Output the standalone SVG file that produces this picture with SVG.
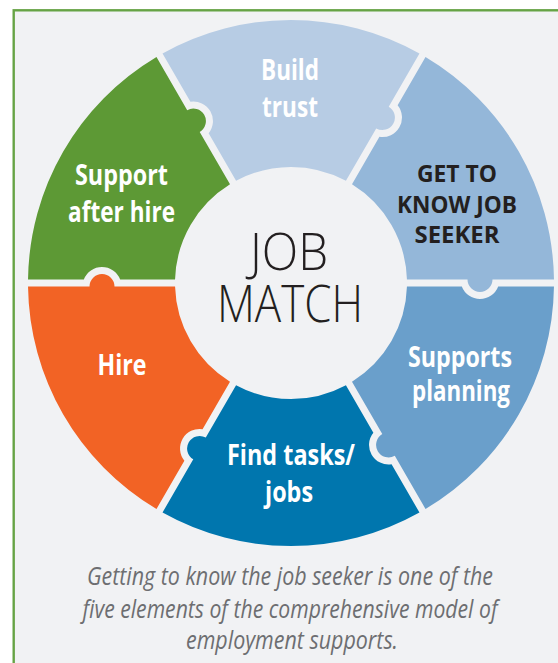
<svg xmlns="http://www.w3.org/2000/svg" xmlns:xlink="http://www.w3.org/1999/xlink" width="558" height="663" viewBox="0 0 558 663">
<style>
.lbl{font-family:"Open Sans","Liberation Sans",sans-serif;font-weight:700;font-size:29px;fill:#ffffff;text-anchor:middle}
.dark{fill:#231f20;font-size:24px}
.ctr{font-family:"Open Sans","Liberation Sans",sans-serif;font-weight:300;font-size:52px;fill:#231f20;text-anchor:middle}
.cap{font-family:"Open Sans","Liberation Sans",sans-serif;font-style:italic;font-weight:400;font-size:26px;fill:#6d6e71;text-anchor:middle}
</style>
<defs>
<path id="seg" d="M 115.95 3.5 L 170.8 3.5 A 19.5 19.5 0 0 0 207.2 3.5 L 262.98 3.5 A 263 263 0 0 1 134.52 226.0 L 103.78 172.75 A 12.5 12.5 0 0 1 91.28 151.10 L 61.00 98.66 A 116 116 0 0 0 115.95 3.5 Z"/>
</defs>
<rect x="0" y="0" width="558" height="663" fill="#ffffff"/>
<rect id="frame" x="13.7" y="10.3" width="570" height="680" fill="#f1f2f4" stroke="#66a345" stroke-width="2.4"/>
<g id="build-trust">
<use xlink:href="#seg" href="#seg" transform="translate(291 283) rotate(-120)" fill="#b7cce4"/>
<text class="lbl" x="290" y="80" textLength="58" lengthAdjust="spacingAndGlyphs">Build</text>
<text class="lbl" x="290" y="117" textLength="56" lengthAdjust="spacingAndGlyphs">trust</text>
</g>
<g id="get-to-know">
<use xlink:href="#seg" href="#seg" transform="translate(291 283) rotate(-60)" fill="#94b7d9"/>
<text class="lbl dark" x="457" y="182" textLength="80" lengthAdjust="spacingAndGlyphs">GET TO</text>
<text class="lbl dark" x="457" y="213" textLength="120" lengthAdjust="spacingAndGlyphs">KNOW JOB</text>
<text class="lbl dark" x="457" y="243" textLength="85" lengthAdjust="spacingAndGlyphs">SEEKER</text>
</g>
<g id="supports-planning">
<use xlink:href="#seg" href="#seg" transform="translate(291 283) rotate(0)" fill="#6a9fcb"/>
<text class="lbl" x="460" y="367" textLength="104" lengthAdjust="spacingAndGlyphs">Supports</text>
<text class="lbl" x="461" y="401" textLength="98" lengthAdjust="spacingAndGlyphs">planning</text>
</g>
<g id="find-tasks">
<use xlink:href="#seg" href="#seg" transform="translate(291 283) rotate(60)" fill="#0076ae"/>
<text class="lbl" x="291" y="465" textLength="128" lengthAdjust="spacingAndGlyphs">Find tasks/</text>
<text class="lbl" x="289" y="502" textLength="48" lengthAdjust="spacingAndGlyphs">jobs</text>
</g>
<g id="hire">
<use xlink:href="#seg" href="#seg" transform="translate(291 283) rotate(120)" fill="#f26325"/>
<text class="lbl" x="122" y="375" textLength="49" lengthAdjust="spacingAndGlyphs">Hire</text>
</g>
<g id="support-after-hire">
<use xlink:href="#seg" href="#seg" transform="translate(291 283) rotate(180)" fill="#5d9935"/>
<text class="lbl" x="121.5" y="185" textLength="93" lengthAdjust="spacingAndGlyphs">Support</text>
<text class="lbl" x="121.5" y="222" textLength="107" lengthAdjust="spacingAndGlyphs">after hire</text>
</g>
<g id="job-match">
<circle cx="291" cy="283" r="112" fill="#f1f2f4"/>
<text class="ctr" x="289" y="270" textLength="78" lengthAdjust="spacingAndGlyphs">JOB</text>
<text class="ctr" x="290" y="322" textLength="146" lengthAdjust="spacingAndGlyphs">MATCH</text>
</g>
<g id="caption">
<text class="cap" x="290" y="585" textLength="406" lengthAdjust="spacingAndGlyphs">Getting to know the job seeker is one of the</text>
<text class="cap" x="290" y="618" textLength="415" lengthAdjust="spacingAndGlyphs">five elements of the comprehensive model of</text>
<text class="cap" x="292" y="649" textLength="212" lengthAdjust="spacingAndGlyphs">employment supports.</text>
</g>
</svg>
